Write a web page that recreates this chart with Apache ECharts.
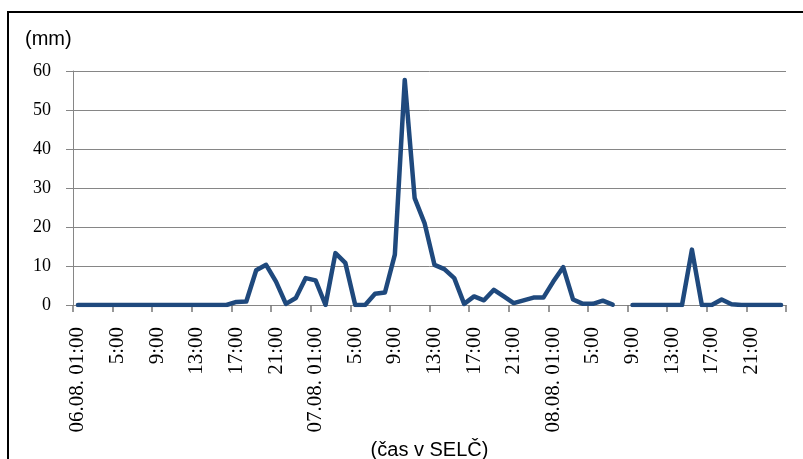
<!DOCTYPE html>
<html>
<head>
<meta charset="utf-8">
<script src="https://cdn.jsdelivr.net/npm/echarts@6/dist/echarts.min.js"></script>
<style>
  html, body { margin: 0; padding: 0; background: #fff; }
  #chart { width: 803px; height: 459px; }
</style>
</head>
<body>
<div id="chart"></div>
<script>
// hourly precipitation, 06.08 01:00 .. 08.08 24:00
const days = ["06.08.", "07.08.", "08.08."];
const categories = [];
days.forEach(d => {
  for (let h = 1; h <= 24; h++) categories.push(d + " " + (h < 10 ? "0" + h : h) + ":00");
});

const rain = [
  0, 0, 0, 0, 0, 0, 0, 0, 0, 0, 0, 0, 0, 0, 0, 0,
  0.8, 0.9, 8.9, 10.3, 6.0, 0.3, 1.8, 6.9,
  6.3, 0, 13.3, 10.8, 0, 0, 2.9, 3.2,
  12.9, 57.7, 27.4, 21.0, 10.3, 9.2, 6.9, 0.3,
  2.2, 1.2, 3.9, 2.2, 0.5, 1.2, 1.9, 1.9,
  6.0, 9.7, 1.4, 0.3, 0.3, 1.1, 0.1, null,
  0, 0, 0, 0, 0, 0, 14.2, 0,
  0, 1.4, 0.2, 0, 0, 0, 0, 0
];

const yTicks = [0, 10, 20, 30, 40, 50, 60];

function tickLabel(value, index) {
  const hour = (index % 24) + 1;
  if (hour === 1) return days[Math.floor(index / 24)] + " 01:00";
  return hour + ":00";
}

const chart = echarts.init(document.getElementById("chart"));
chart.setOption({
  animation: false,
  grid: { left: 73, right: 17, top: 71, bottom: 154, containLabel: false, outerBoundsMode: "none" },
  graphic: [{
    type: "rect",
    shape: { x: 8, y: 12, width: 900, height: 600 },
    style: { fill: "none", stroke: "#000", lineWidth: 2 }
  }],
  title: {
    text: "(mm)",
    left: 20, top: 24,
    textStyle: { fontFamily: "Liberation Sans", fontSize: 20, fontWeight: "normal", color: "#000" }
  },
  xAxis: {
    type: "category",
    data: categories,
    boundaryGap: true,
    name: "(čas v SELČ)",
    nameLocation: "middle",
    nameGap: 126,
    nameTextStyle: { fontFamily: "Liberation Sans", fontSize: 20, color: "#000" },
    axisLine: { show: true, lineStyle: { color: "#868686", width: 1 } },
    axisTick: { show: true, alignWithLabel: false, interval: 3, length: 7, lineStyle: { color: "#777", width: 1.5 } },
    axisLabel: {
      interval: 3,
      rotate: 90,
      margin: 22,
      fontFamily: "Liberation Serif",
      fontSize: 21,
      color: "#000",
      formatter: tickLabel
    }
  },
  yAxis: {
    type: "value",
    min: yTicks[0],
    max: yTicks[yTicks.length - 1],
    interval: 10,
    axisLine: { show: true, lineStyle: { color: "#868686", width: 1 } },
    axisTick: { show: true, length: 7, lineStyle: { color: "#868686" } },
    splitLine: { lineStyle: { color: "#868686", width: 1 } },
    axisLabel: {
      margin: 22,
      fontFamily: "Liberation Serif",
      fontSize: 18,
      color: "#000"
    }
  },
  series: [{
    type: "line",
    data: rain,
    showSymbol: false,
    connectNulls: false,
    lineStyle: { color: "#1f497d", width: 4.5, join: "round", cap: "round" }
  }]
});
</script>
</body>
</html>
